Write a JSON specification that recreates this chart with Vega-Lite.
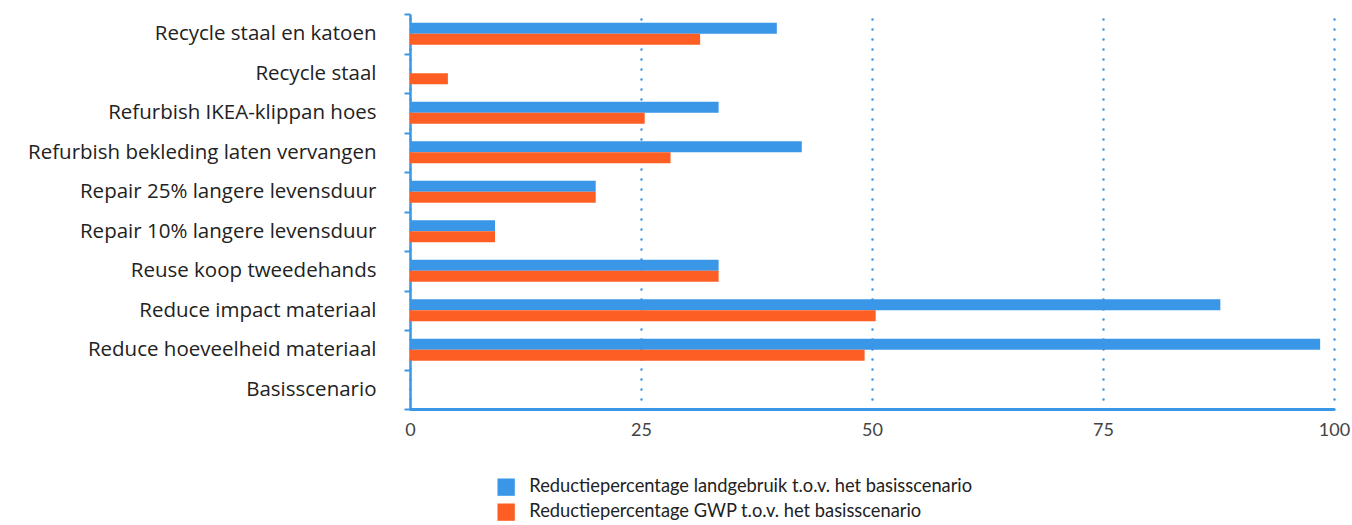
{
  "$schema": "https://vega.github.io/schema/vega-lite/v6.json",
  "width": 924,
  "height": 395,
  "autosize": {"type": "none"},
  "padding": {"left": 410, "top": 14, "right": 18, "bottom": 116},
  "background": "white",
  "config": {
    "view": {"stroke": null},
    "font": "Lato"
  },
  "data": {
    "values": [
      {"scenario": "Recycle staal en katoen", "reeks": "Reductiepercentage landgebruik t.o.v. het basisscenario", "waarde": 39.7},
      {"scenario": "Recycle staal en katoen", "reeks": "Reductiepercentage GWP t.o.v. het basisscenario", "waarde": 31.4},
      {"scenario": "Recycle staal", "reeks": "Reductiepercentage landgebruik t.o.v. het basisscenario", "waarde": 0},
      {"scenario": "Recycle staal", "reeks": "Reductiepercentage GWP t.o.v. het basisscenario", "waarde": 4.1},
      {"scenario": "Refurbish IKEA-klippan hoes", "reeks": "Reductiepercentage landgebruik t.o.v. het basisscenario", "waarde": 33.4},
      {"scenario": "Refurbish IKEA-klippan hoes", "reeks": "Reductiepercentage GWP t.o.v. het basisscenario", "waarde": 25.4},
      {"scenario": "Refurbish bekleding laten vervangen", "reeks": "Reductiepercentage landgebruik t.o.v. het basisscenario", "waarde": 42.4},
      {"scenario": "Refurbish bekleding laten vervangen", "reeks": "Reductiepercentage GWP t.o.v. het basisscenario", "waarde": 28.2},
      {"scenario": "Repair 25% langere levensduur", "reeks": "Reductiepercentage landgebruik t.o.v. het basisscenario", "waarde": 20.1},
      {"scenario": "Repair 25% langere levensduur", "reeks": "Reductiepercentage GWP t.o.v. het basisscenario", "waarde": 20.1},
      {"scenario": "Repair 10% langere levensduur", "reeks": "Reductiepercentage landgebruik t.o.v. het basisscenario", "waarde": 9.2},
      {"scenario": "Repair 10% langere levensduur", "reeks": "Reductiepercentage GWP t.o.v. het basisscenario", "waarde": 9.2},
      {"scenario": "Reuse koop tweedehands", "reeks": "Reductiepercentage landgebruik t.o.v. het basisscenario", "waarde": 33.4},
      {"scenario": "Reuse koop tweedehands", "reeks": "Reductiepercentage GWP t.o.v. het basisscenario", "waarde": 33.4},
      {"scenario": "Reduce  impact materiaal", "reeks": "Reductiepercentage landgebruik t.o.v. het basisscenario", "waarde": 87.7},
      {"scenario": "Reduce  impact materiaal", "reeks": "Reductiepercentage GWP t.o.v. het basisscenario", "waarde": 50.4},
      {"scenario": "Reduce hoeveelheid materiaal", "reeks": "Reductiepercentage landgebruik t.o.v. het basisscenario", "waarde": 98.5},
      {"scenario": "Reduce hoeveelheid materiaal", "reeks": "Reductiepercentage GWP t.o.v. het basisscenario", "waarde": 49.2},
      {"scenario": "Basisscenario", "reeks": "Reductiepercentage landgebruik t.o.v. het basisscenario", "waarde": 0},
      {"scenario": "Basisscenario", "reeks": "Reductiepercentage GWP t.o.v. het basisscenario", "waarde": 0}
    ]
  },
  "mark": {"type": "bar"},
  "encoding": {
    "y": {
      "field": "scenario",
      "type": "nominal",
      "sort": ["Recycle staal en katoen", "Recycle staal", "Refurbish IKEA-klippan hoes", "Refurbish bekleding laten vervangen", "Repair 25% langere levensduur", "Repair 10% langere levensduur", "Reuse koop tweedehands", "Reduce  impact materiaal", "Reduce hoeveelheid materiaal", "Basisscenario"],
      "scale": {"paddingInner": 0, "paddingOuter": 0},
      "axis": {
        "title": null,
        "domainColor": "#3a96e6",
        "domainWidth": 2.5,
        "tickColor": "#3a96e6",
        "tickWidth": 2,
        "tickSize": 6,
        "tickBand": "extent",
        "labelFont": "Open Sans",
        "labelFontSize": 20.5,
        "labelColor": "#222222",
        "labelPadding": 28,
        "labelLimit": 500,
        "grid": false
      }
    },
    "yOffset": {
      "field": "reeks",
      "type": "nominal",
      "sort": ["Reductiepercentage landgebruik t.o.v. het basisscenario", "Reductiepercentage GWP t.o.v. het basisscenario"],
      "scale": {"paddingInner": 0, "paddingOuter": 0.8}
    },
    "x": {
      "field": "waarde",
      "type": "quantitative",
      "scale": {"domain": [0, 100], "nice": false},
      "axis": {
        "title": null,
        "values": [0, 25, 50, 75, 100],
        "domainColor": "#3a96e6",
        "domainWidth": 3,
        "ticks": false,
        "labelFontSize": 18,
        "labelColor": "#444444",
        "labelPadding": 12,
        "labelFlush": false,
        "grid": true,
        "gridColor": "#3a96e6",
        "gridWidth": 2.5,
        "gridDash": [0.1, 9.9],
        "gridCap": "round"
      }
    },
    "color": {
      "field": "reeks",
      "type": "nominal",
      "sort": ["Reductiepercentage landgebruik t.o.v. het basisscenario", "Reductiepercentage GWP t.o.v. het basisscenario"],
      "scale": {
        "domain": ["Reductiepercentage landgebruik t.o.v. het basisscenario", "Reductiepercentage GWP t.o.v. het basisscenario"],
        "range": ["#3a96e6", "#fd5e23"]
      },
      "legend": {
        "title": null,
        "orient": "none",
        "legendX": 87,
        "legendY": 464,
        "padding": 0,
        "symbolType": "square",
        "symbolSize": 300,
        "symbolStrokeWidth": 0,
        "labelFontSize": 18.3,
        "labelColor": "#222222",
        "labelOffset": 14,
        "labelLimit": 700,
        "rowPadding": 6
      }
    }
  }
}
